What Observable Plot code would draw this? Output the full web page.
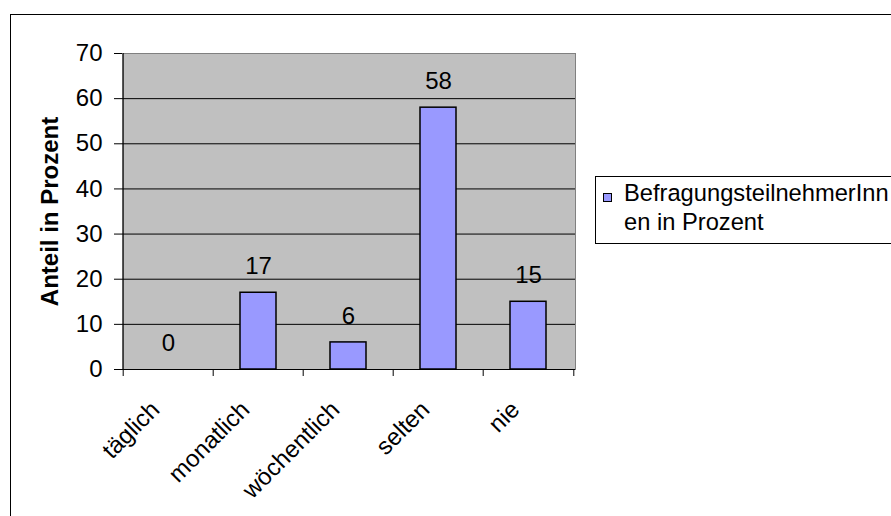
<!DOCTYPE html>
<html>
<head>
<meta charset="utf-8">
<script src="https://cdn.jsdelivr.net/npm/d3@7"></script>
<script src="https://cdn.jsdelivr.net/npm/@observablehq/plot@0.6"></script>
<style>
  html, body { margin: 0; padding: 0; background: #fff; overflow: hidden; }
  #chart { position: relative; width: 891px; height: 516px; font-family: "Liberation Sans", Arial, sans-serif; color: #000; }
  #chart svg { position: absolute; left: 0; top: 0; }
  .outer { position: absolute; left: 10px; top: 14px; width: 900px; height: 520px; border: 1px solid #000; pointer-events: none; }
  .legend { position: absolute; left: 595px; top: 176px; width: 320px; height: 66px; border: 1px solid #000; background: #fff; font-size: 23.7px; line-height: 1; }
  .legend .swatch { position: absolute; left: 7px; top: 16px; width: 7px; height: 7px; border: 1px solid #000; background: #9999FF; }
  .legend .l1 { position: absolute; left: 28px; top: 5px; white-space: nowrap; }
  .legend .l2 { position: absolute; left: 28px; top: 34px; white-space: nowrap; }
</style>
</head>
<body>
<div id="chart"></div>
<script>
// Survey answers: how often respondents do it, share in percent
const categories = ["täglich", "monatlich", "wöchentlich", "selten", "nie"];
const values = [0, 17, 6, 58, 15];
const yTicks = [0, 10, 20, 30, 40, 50, 60, 70];
const axisTitle = "Anteil in Prozent";
const legendLines = ["BefragungsteilnehmerInn", "en in Prozent"];

const data = categories.map((category, i) => ({category, value: values[i]}));

const W = 891, H = 516;
const margin = {left: 122, right: 316, top: 53, bottom: 147};
const step = (W - margin.left - margin.right) / categories.length;
const font = "'Liberation Sans', Arial, sans-serif";
const fs = 24;

const chart = Plot.plot({
  width: W,
  height: H,
  marginLeft: margin.left,
  marginRight: margin.right,
  marginTop: margin.top,
  marginBottom: margin.bottom,
  style: {fontFamily: font, fontSize: fs + "px", color: "#000", background: "transparent", overflow: "visible"},
  x: {domain: categories, paddingInner: 0.6, paddingOuter: 0.3, axis: null},
  y: {domain: [0, 70], axis: null},
  marks: [
    // grey plot area with its grey border
    Plot.frame({fill: "#C0C0C0", stroke: "#808080"}),
    // horizontal gridlines
    Plot.ruleY(yTicks.filter(t => t > 0 && t < 70), {stroke: "#000"}),
    // bars
    Plot.barY(data, {x: "category", y: "value", fill: "#9999FF", stroke: "#000", strokeWidth: 1.5}),
    // axis lines
    Plot.ruleY([0], {stroke: "#000"}),
    Plot.ruleX([categories[0]], {dx: -step / 2, stroke: "#000"}),
    // y axis ticks and labels
    Plot.axisY({ticks: yTicks, tickSize: 8, tickPadding: 12, fontSize: fs, label: null, stroke: "#000"}),
    // x ticks sit on the category boundaries
    Plot.axisX({ticks: categories, tickSize: 7, tickFormat: () => "", dx: -step / 2, label: null, stroke: "#000"}),
    Plot.axisX({ticks: [categories[categories.length - 1]], tickSize: 7, tickFormat: () => "", dx: step / 2, label: null, stroke: "#000"}),
    // slanted category labels
    Plot.text(categories, {x: d => d, y: () => 0, text: d => d, rotate: -45, textAnchor: "end", lineAnchor: "bottom", dx: -7.5, dy: 41.5, fontSize: fs}),
    // value labels above the bars
    Plot.text(data, {x: "category", y: "value", text: d => String(d.value), lineAnchor: "bottom", dy: -18.5, fontSize: fs}),
    // y axis title
    Plot.text([axisTitle], {frameAnchor: "left", rotate: -90, textAnchor: "middle", lineAnchor: "middle", dx: -72.5, fontWeight: "bold", fontSize: fs})
  ]
});

const root = document.getElementById("chart");
root.appendChild(chart);

const outer = document.createElement("div");
outer.className = "outer";
root.appendChild(outer);

const legend = document.createElement("div");
legend.className = "legend";
legend.innerHTML = `<span class="swatch"></span><span class="l1"></span><span class="l2"></span>`;
legend.querySelector(".l1").textContent = legendLines[0];
legend.querySelector(".l2").textContent = legendLines[1];
root.appendChild(legend);
</script>
</body>
</html>
